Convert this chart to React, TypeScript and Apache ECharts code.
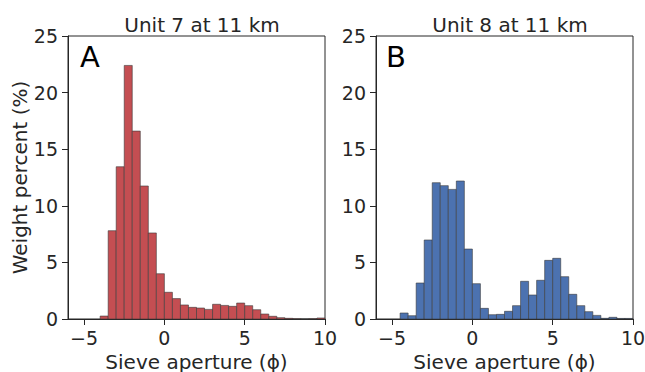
import React, { useEffect, useRef } from "react";
import * as echarts from "echarts";

const binStartsA = [-4, -3.5, -3, -2.5, -2, -1.5, -1, -0.5, 0, 0.5, 1, 1.5, 2, 2.5, 3, 3.5, 4, 4.5, 5, 5.5, 6, 6.5, 7, 7.5, 8, 8.5, 9, 9.5];
const valuesA = [0.26, 7.8, 13.45, 22.4, 16.6, 11.75, 7.6, 4.0, 2.36, 1.8, 1.24, 1.03, 0.97, 0.85, 1.3, 1.2, 1.12, 1.41, 1.18, 0.82, 0.44, 0.24, 0.12, 0.06, 0.02, 0.01, 0.02, 0.09];

const binStartsB = [-4.5, -4, -3.5, -3, -2.5, -2, -1.5, -1, -0.5, 0, 0.5, 1, 1.5, 2, 2.5, 3, 3.5, 4, 4.5, 5, 5.5, 6, 6.5, 7, 7.5, 8, 8.5, 9, 9.5];
const valuesB = [0.53, 0.29, 3.18, 6.98, 12.04, 11.78, 11.45, 12.19, 6.18, 3.12, 0.94, 0.38, 0.41, 0.68, 1.18, 3.33, 2.12, 3.42, 5.18, 5.36, 3.74, 2.18, 1.18, 0.65, 0.32, 0.06, 0.15, 0.05, 0.05];

const binWidth = 0.5;
const xTicks = [-5, 0, 5, 10];
const titles = ["Unit 7 at 11 km", "Unit 8 at 11 km"];
const panelLetters = ["A", "B"];
const xName = "Sieve aperture (ϕ)";
const yName = "Weight percent (%)";

const FONT = "DejaVu Sans";
const TXT = "#262626";

export default function App() {
  const ref = useRef<HTMLDivElement>(null);
  useEffect(() => {
    if (!ref.current) return;
    const chart = echarts.init(ref.current, null, { renderer: "svg" });
    const grids = [
      { left: 68, right: 320, top: 36, bottom: 53 },
      { left: 376, right: 12, top: 36, bottom: 53 },
    ];
    const fmt = (v: number) => String(v).replace("-", "\u2212");
    const xAxes = grids.map((_, i) => ({
      type: "value",
      gridIndex: i,
      min: -6,
      max: 10,
      name: xName,
      nameLocation: "middle",
      nameGap: 27,
      nameTextStyle: { fontFamily: FONT, fontSize: 20, lineHeight: 20, color: TXT, verticalAlign: "top" },
      axisLine: { show: true, onZero: false, lineStyle: { color: TXT, width: 1 } },
      axisTick: { show: true, inside: false, length: 6, lineStyle: { color: TXT }, customValues: xTicks },
      axisLabel: { show: true, fontFamily: FONT, fontSize: 19, color: TXT, margin: 9, formatter: fmt, customValues: xTicks },
      splitLine: { show: false },
    }));
    const yAxes = grids.map((_, i) => ({
      type: "value",
      gridIndex: i,
      min: 0,
      max: 25,
      interval: 5,
      name: i === 0 ? yName : "",
      nameLocation: "middle",
      nameGap: 36,
      nameTextStyle: { fontFamily: FONT, fontSize: 20, color: TXT },
      axisLine: { show: true, onZero: false, lineStyle: { color: TXT, width: 1 } },
      axisTick: { show: true, inside: false, length: 6, lineStyle: { color: TXT } },
      axisLabel: { show: true, fontFamily: FONT, fontSize: 19, color: TXT, margin: 10 },
      splitLine: { show: false },
    }));
    const mkSeries = (i: number, starts: number[], vals: number[], fill: string) => ({
      type: "custom",
      xAxisIndex: i,
      yAxisIndex: i,
      data: starts.map((s, k) => [s, s + binWidth, vals[k]]),
      encode: { x: [0, 1], y: 2 },
      renderItem: (_p: any, api: any) => {
        const p0 = api.coord([api.value(0), api.value(2)]);
        const p1 = api.coord([api.value(1), 0]);
        return {
          type: "rect",
          shape: { x: p0[0], y: p0[1], width: p1[0] - p0[0], height: p1[1] - p0[1] },
          style: { fill, stroke: "#3a3a3a", lineWidth: 0.6 },
        };
      },
    });
    const titleStyle = { fontFamily: FONT, fontSize: 20, fontWeight: "normal", color: TXT };
    chart.setOption({
      animation: false,
      backgroundColor: "#ffffff",
      grid: grids.map((g) => ({
        ...g,
        containLabel: false,
        outerBoundsMode: "none",
        show: true,
        borderColor: TXT,
        borderWidth: 1,
        backgroundColor: "transparent",
      })),
      xAxis: xAxes,
      yAxis: yAxes,
      title: [
        { text: titles[0], left: 197, top: 10, textAlign: "center", textStyle: titleStyle },
        { text: titles[1], left: 505, top: 10, textAlign: "center", textStyle: titleStyle },
      ],
      graphic: [
        { type: "text", left: 80, top: 42, style: { text: panelLetters[0], fontFamily: FONT, fontSize: 29, fill: "#000" } },
        { type: "text", left: 386, top: 42, style: { text: panelLetters[1], fontFamily: FONT, fontSize: 29, fill: "#000" } },
      ],
      series: [
        mkSeries(0, binStartsA, valuesA, "#c44e52"),
        mkSeries(1, binStartsB, valuesB, "#4c72b0"),
      ],
    });
    return () => chart.dispose();
  }, []);
  return <div ref={ref} style={{ width: 645, height: 372, position: "absolute", left: 0, top: 0 }} />;
}
